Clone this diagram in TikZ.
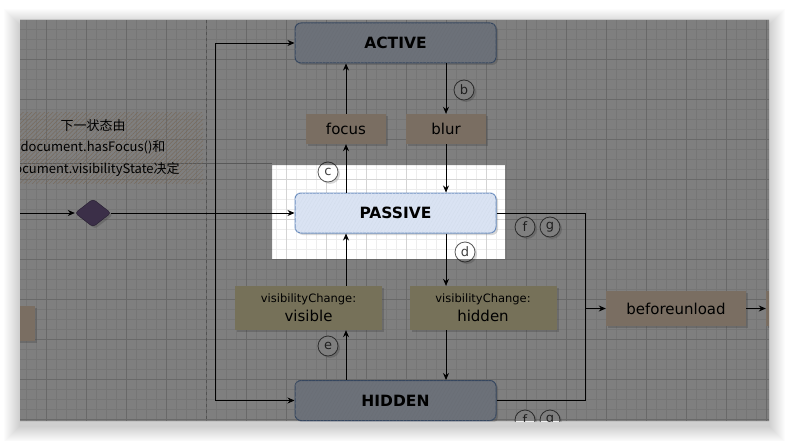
\documentclass[tikz,border=0pt]{standalone}
\usepackage{fontspec}
\setmainfont{DejaVu Sans}
\newfontfamily\cjk{Noto Sans CJK SC}
\usetikzlibrary{arrows.meta,shapes.geometric,shadows,patterns.meta}
\definecolor{statefill}{HTML}{DAE3F3}
\definecolor{stateline}{HTML}{6C8EBF}
\definecolor{eventfill}{HTML}{F5DEC6}
\definecolor{changefill}{HTML}{EEE4B4}
\definecolor{choicefill}{HTML}{786092}
\definecolor{choiceline}{HTML}{4A3A5E}
\definecolor{notehatch}{HTML}{F2D6B8}

\begin{document}
\begin{tikzpicture}[
        x=1pt, y=-1pt,
        >={Stealth[length=7pt,width=6pt]},
        minorline/.style={draw=black!7, line width=0.5pt},
        majorline/.style={draw=black!17, line width=0.6pt},
        flow/.style={draw=black, line width=0.9pt},
        boxshadow/.style={drop shadow={shadow xshift=2pt, shadow yshift=-2pt, opacity=0.3}},
        state/.style={draw=stateline, line width=1pt, fill=statefill, rounded corners=6pt,
            minimum width=201pt, minimum height=40pt, inner sep=0pt,
            font=\bfseries\fontsize{15.5}{18}\selectfont, boxshadow,
            postaction={pattern={Lines[angle=60,distance=3pt,line width=0.4pt]}, pattern color=stateline!30}},
        event/.style={fill=eventfill, minimum width=80pt, minimum height=30pt, inner sep=0pt,
            font=\fontsize{15}{18}\selectfont, boxshadow},
        change/.style={fill=changefill, minimum width=147pt, minimum height=44pt, inner sep=0pt,
            align=center, font=\fontsize{15}{19}\selectfont, boxshadow},
        choice/.style={diamond, fill=choicefill, draw=choiceline, rounded corners=3pt,
            minimum width=36pt, minimum height=28pt, inner sep=0pt, boxshadow},
        badge/.style={circle, draw=black!65, line width=0.8pt, fill=white, minimum size=20pt,
            inner sep=0pt, text=black!75, font=\fontsize{13}{13}\selectfont, boxshadow},
        note/.style={minimum width=220pt, minimum height=70pt, align=center,
            font=\cjk\fontsize{13}{21.5}\selectfont,
            pattern={Lines[angle=45,distance=3pt,line width=0.5pt]}, pattern color=notehatch},
    ]
    \useasboundingbox (0,0) rectangle (789,441);
    \fill[white] (0,0) rectangle (789,441);

    % soft shadow of the window
    \foreach \s in {1,...,16}
        \fill[black, opacity=0.011] (20-\s,20-\s+5) rectangle (769+\s,421+\s+5);

    \begin{scope}
    \clip (20,20) rectangle (769,421);
    \fill[white] (20,20) rectangle (769,421);

    % grid
    \foreach \x in {26,36,...,766} \draw[minorline] (\x,20) -- (\x,421);
    \foreach \y in {29,39,...,419} \draw[minorline] (20,\y) -- (769,\y);
    \foreach \x in {46,86,...,766} \draw[majorline] (\x,20) -- (\x,421);
    \foreach \y in {19,59,...,419} \draw[majorline] (20,\y) -- (769,\y);
    \draw[black!35, dashed, line width=0.6pt] (206,20) -- (206,421);
    \draw[black!30, line width=0.8pt] (20,163) -- (272,163);

    % note
    \node[note] (hint) at (93,148) {下一状态由\\document.hasFocus()和\\document.visibilityState决定};

    % states
    \node[state] (active) at (395.5,43) {ACTIVE};
    \node[state] (passive) at (395.5,213) {PASSIVE};
    \node[state] (hidden) at (395.5,400.5) {HIDDEN};

    % events
    \node[event] (focus) at (346,129) {focus};
    \node[event] (blur) at (446,129) {blur};
    \node[change] (visvisible) at (308.5,308)
        {{\fontsize{11.5}{14}\selectfont visibilityChange:}\\visible};
    \node[change] (vishidden) at (483,308)
        {{\fontsize{11.5}{14}\selectfont visibilityChange:}\\hidden};
    \node[event, minimum width=140pt, minimum height=35pt] (unload) at (676,308.5) {beforeunload};
    \node[event, minimum width=120pt, minimum height=35pt] (prevbox) at (-25,323.5) {};
    \node[event, minimum width=100pt, minimum height=35pt] (nextbox) at (816,308.5) {};

    % choice
    \node[choice] (choice) at (93,213) {};
    \coordinate (entry) at (20,213);
    \coordinate (split) at (215,213);
    \coordinate (merge) at (585,308.5);

    % connectors
    \draw[flow, ->] (entry) -- (choice);
    \draw[flow, ->] (choice) -- (passive);
    \draw[flow, ->] (split) |- (active);
    \draw[flow, ->] (split) |- (hidden);

    \draw[flow, ->] (passive.north -| focus) -- (focus);
    \draw[flow, ->] (focus) -- (focus |- active.south);
    \draw[flow, ->] (active.south -| blur) -- (blur);
    \draw[flow, ->] (blur) -- (blur |- passive.north);

    \draw[flow, ->] (passive.south -| blur) -- (vishidden.north -| blur);
    \draw[flow, ->] (vishidden.south -| blur) -- (hidden.north -| blur);
    \draw[flow, ->] (hidden.north -| focus) -- (visvisible.south -| focus);
    \draw[flow, ->] (visvisible.north -| focus) -- (passive.south -| focus);

    \draw[flow] (passive.east) -| (merge);
    \draw[flow] (hidden.east) -| (merge);
    \draw[flow, ->] (merge) -- (unload);
    \draw[flow, ->] (unload) -- (nextbox);

    % badges
    \node[badge] (tagb) at (464,90) {b};
    \node[badge] (tagc) at (328,172) {c};
    \node[badge] (tagd) at (465,252) {d};
    \node[badge] (tage) at (328,346) {e};
    \node[badge] (tagf) at (525,227) {f};
    \node[badge] (tagg) at (550,227) {g};
    \node[badge] (taghf) at (525,420) {f};
    \node[badge] (taghg) at (550,420) {g};

    % dim everything but the passive state
    \fill[black, opacity=0.5, even odd rule] (20,20) rectangle (769,421) (272,165) rectangle (505,259);
    \end{scope}
\end{tikzpicture}
\end{document}
